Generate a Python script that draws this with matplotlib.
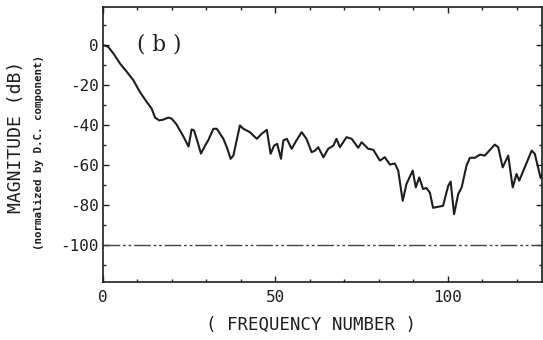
import numpy as np
import matplotlib.pyplot as plt
from matplotlib.ticker import MultipleLocator

# spectrum magnitude, normalized to the D.C. component
freq = [0, 1.5, 3.0, 4.9, 6.9, 8.8, 10.7, 12.7, 14.1, 15.1, 16.3, 17.5, 18.9,
        19.9, 21.2, 22.3, 23.3, 24.8, 25.7, 26.4, 27.3, 28.4, 29.6, 30.5, 32.0,
        33.0, 34.9, 35.9, 37.0, 37.8, 39.7, 40.7, 42.6, 44.6, 46.0, 47.5, 48.6,
        49.6, 50.5, 51.6, 52.3, 53.3, 54.7, 56.1, 57.6, 59.0, 60.5, 61.5, 62.4,
        63.9, 65.3, 66.8, 67.7, 68.7, 70.6, 72.1, 74.0, 75.0, 76.9, 78.4, 80.3,
        81.7, 83.2, 84.6, 85.6, 86.9, 88.0, 89.8, 90.7, 91.7, 92.8, 93.8, 94.8,
        95.7, 98.6, 100.1, 100.8, 101.8, 103.0, 104.0, 105.4, 106.4, 107.8,
        109.3, 110.7, 113.6, 114.6, 115.9, 117.5, 118.8, 119.9, 120.7, 124.3,
        125.2, 126.9, 127.6]
mag_db = [0, -0.9, -4.2, -9.2, -13.4, -17.6, -23.5, -28.5, -31.8, -36.3, -37.7,
          -37.3, -36.3, -36.8, -39.4, -42.7, -45.7, -50.8, -42.2, -42.7, -47.7,
          -54.3, -50.3, -47.7, -41.9, -41.9, -46.9, -51.1, -56.9, -55.3, -40.2,
          -41.9, -43.6, -46.9, -44.4, -42.4, -54.4, -50.3, -49.4, -56.9, -47.7,
          -46.9, -51.9, -47.7, -43.6, -46.9, -53.6, -52.8, -51.1, -56.1, -51.9,
          -50.3, -46.9, -51.1, -46.1, -46.9, -51.4, -48.6, -51.9, -52.4, -57.8,
          -56.1, -59.8, -59.2, -62.8, -77.9, -69.5, -62.8, -71.2, -66.2, -72.0,
          -71.5, -73.9, -81.4, -80.4, -70.4, -68.3, -84.6, -74.5, -71.2, -60.3,
          -56.4, -56.4, -54.8, -55.3, -49.8, -51.1, -61.2, -55.3, -71.2, -64.5,
          -67.8, -52.8, -54.4, -66.5, -63.7]
floor_db = -100

mono = 'DejaVu Sans Mono'
ink = '#1e1e1e'
plt.rcParams['axes.unicode_minus'] = False

fig = plt.figure(figsize=(5.43, 3.40), dpi=100)
ax = fig.add_axes([0.1897, 0.1706, 0.8085, 0.8088])

ax.plot(freq, mag_db, color=ink, lw=1.5)
ax.axhline(floor_db, color='#444444', lw=1.0, linestyle=(0, (12, 2, 2, 2, 2, 2)))

ax.set_xlim(0, 127.3)
ax.set_ylim(-118.5, 19)
ax.set_xticks([0, 50, 100])
ax.xaxis.set_minor_locator(MultipleLocator(10))
ax.set_yticks([0, -20, -40, -60, -80, -100])
ax.yaxis.set_minor_locator(MultipleLocator(10))
ax.tick_params(which='both', direction='in', top=True, right=True, color=ink)
ax.tick_params(which='major', length=4, width=1.0)
ax.tick_params(axis='y', which='major', pad=3)
ax.tick_params(axis='x', which='major', pad=6)
ax.tick_params(which='minor', length=2, width=1.0)
for lab in ax.get_xticklabels() + ax.get_yticklabels():
    lab.set_family(mono)
    lab.set_fontsize(11.5)
    lab.set_color(ink)
for sp in ax.spines.values():
    sp.set_linewidth(1.2)
    sp.set_color(ink)

ax.text(0.077, 0.862, '( b )', transform=ax.transAxes, family='DejaVu Serif',
        fontsize=15.5, color=ink, va='center', ha='left')

fig.text(311 / 543, 1 - 325 / 340, '( FREQUENCY NUMBER )', family=mono, fontsize=12.5,
         color=ink, ha='center', va='center')
fig.text(16 / 543, 1 - 137 / 340, 'MAGNITUDE (dB)', family=mono, fontsize=13,
         color=ink, ha='center', va='center', rotation=90)
fig.text(38.5 / 543, 1 - 153 / 340, '(normalized by D.C. component)', family=mono,
         fontsize=7.8, weight='bold', color=ink, ha='center', va='center', rotation=90)

fig.savefig('out.png', dpi=100)
